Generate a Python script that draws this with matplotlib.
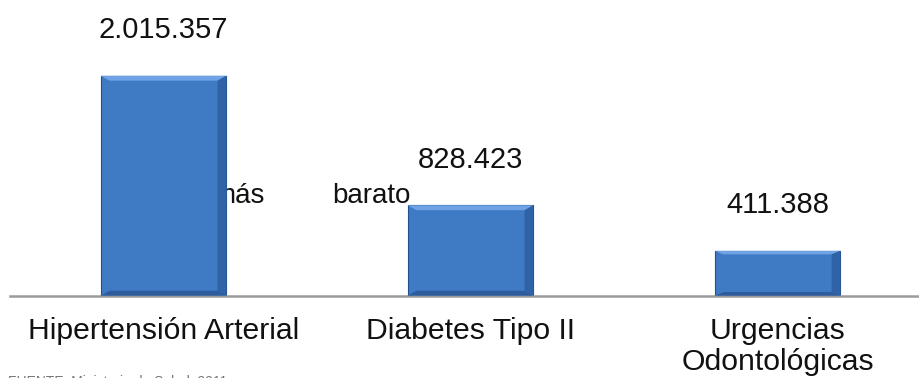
import matplotlib.pyplot as plt
from matplotlib.patches import Polygon

# datos
categorias = ['Hipertensión Arterial', 'Diabetes Tipo II', 'Urgencias\nOdontológicas']
valores = [2015357, 828423, 411388]
etiquetas = ['2.015.357', '828.423', '411.388']

plt.rcParams['font.family'] = ['Liberation Sans', 'DejaVu Sans']

fig = plt.figure(figsize=(9.2, 3.78), dpi=100)
# the axis runs a little past the right edge of the picture
ax = fig.add_axes([10 / 920, 82.3 / 378, 921 / 920, 295.7 / 378])

x = range(len(categorias))
bars = ax.bar(x, valores, width=0.41, color='#3F7AC4', edgecolor='#244F8C',
              linewidth=0.8, zorder=2)

# bevel look on each bar (light top, dark right side)
for b in bars:
    x0, y0 = b.get_x(), b.get_y()
    w, h = b.get_width(), b.get_height()
    dx = w * 0.07
    dy = min(h * 0.08, 45000)
    top = Polygon([[x0, y0 + h], [x0 + w, y0 + h], [x0 + w - dx, y0 + h - dy],
                   [x0 + dx, y0 + h - dy]], closed=True, facecolor='#6FA3E6',
                  edgecolor='none', zorder=3)
    right = Polygon([[x0 + w, y0], [x0 + w, y0 + h], [x0 + w - dx, y0 + h - dy],
                     [x0 + w - dx, y0 + dy]], closed=True, facecolor='#2F62A6',
                    edgecolor='none', zorder=3)
    bottom = Polygon([[x0, y0], [x0 + w, y0], [x0 + w - dx, y0 + dy],
                      [x0 + dx, y0 + dy]], closed=True, facecolor='#2C5C9E',
                     edgecolor='none', zorder=3)
    ax.add_patch(top)
    ax.add_patch(right)
    ax.add_patch(bottom)

# value labels above the bars
for b, lab in zip(bars, etiquetas):
    ax.annotate(lab, (b.get_x() + b.get_width() / 2, b.get_height()),
                xytext=(0, 27), textcoords='offset points', ha='center',
                va='baseline', fontsize=21, color='#111111')

# stray text box partly hidden behind the first bar
fig.text(212 / 920, 1 - 203 / 378, 'el más', ha='right', va='baseline',
         fontsize=20, color='#111111', zorder=0.5)
fig.text(212 / 920, 1 - 203 / 378, 'más', ha='left', va='baseline',
         fontsize=20, color='#111111', zorder=0.5)
fig.text(332 / 920, 1 - 203 / 378, 'barato', ha='left', va='baseline',
         fontsize=20, color='#111111', zorder=0.5)
ax.set_zorder(1)
ax.patch.set_visible(False)

ax.set_xlim(-0.5, len(categorias) - 0.5)
ax.set_ylim(0, 2.709e6)
ax.set_xticks(list(x))
ax.set_xticklabels(categorias, fontsize=21.7, color='#111111', linespacing=1.18)
ax.tick_params(axis='x', length=0, pad=15)
ax.set_yticks([])
for s in ['top', 'right', 'left']:
    ax.spines[s].set_visible(False)
ax.spines['bottom'].set_color('#9A9A9A')
ax.spines['bottom'].set_linewidth(1.8)

# source line, cut off at the bottom edge like in the original
fig.text(8 / 920, 1 - 375 / 378, 'FUENTE: Ministerio de Salud, 2011', ha='left',
         va='top', fontsize=10, color='#777777')

fig.savefig('out.png', dpi=100)
